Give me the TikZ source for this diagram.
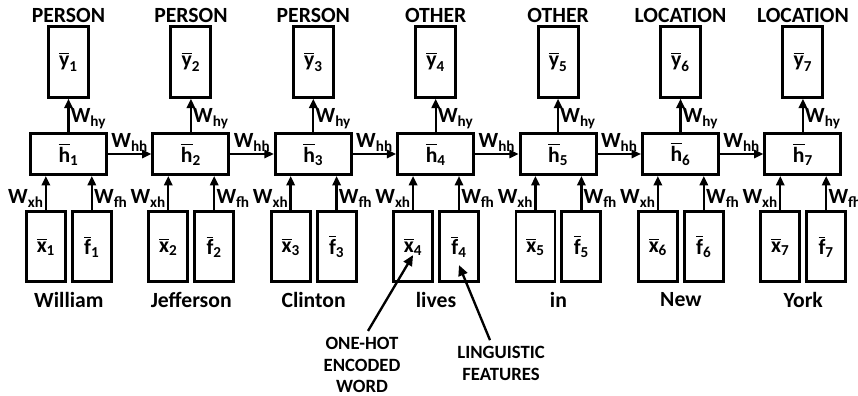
\documentclass[tikz,border=0pt]{standalone}
\usepackage{amsmath}
\usepackage{fontspec}
\setmainfont{Carlito}
\usetikzlibrary{arrows.meta, positioning}

\begin{document}
\begin{tikzpicture}[
  x=0.03cm, y=-0.03cm,
  every node/.style={font=\fontsize{18.5}{21}\selectfont\bfseries},
  hbox/.style={draw, line width=2.5pt, minimum width=2.28cm, minimum height=1.23cm, inner sep=0pt},
  ybox/.style={draw, line width=2.5pt, minimum width=1.2cm, minimum height=2.13cm, inner sep=0pt},
  xbox/.style={draw, line width=2.5pt, minimum width=1.17cm, minimum height=2.1cm, inner sep=0pt},
  cls/.style={inner sep=1pt},
  tok/.style={inner sep=1pt},
  wlab/.style={inner sep=1pt},
  note/.style={font=\fontsize{16}{18.3}\selectfont\bfseries, align=center, inner sep=1pt},
  arr/.style={-{Triangle[length=8pt,width=7pt]}, line width=2pt},
  ptr/.style={-{Triangle[length=9pt,width=8pt]}, line width=2pt}
]
  \useasboundingbox (0,0) rectangle (858,396);

  % one time step per column
  \foreach \i/\c/\t in {1/PERSON/William, 2/PERSON/Jefferson, 3/PERSON/Clinton,
                        4/OTHER/lives, 5/OTHER/in, 6/LOCATION/New, 7/LOCATION/York}{
    \node[hbox] (h\i) at ({68.5+122.4*(\i-1)},154) {$\overline{\text{h}}_{\text{\i}}$};
    \node[ybox, above=1cm of h\i] (y\i) {$\overline{\text{y}}_{\text{\i}}$};
    \node[cls, above=0.02cm of y\i] (c\i) {\c};
    \node[xbox, anchor=north east] (x\i) at ([xshift=-0.05cm, yshift=-1.03cm]h\i.south) {$\overline{\text{x}}_{\text{\i}}$};
    \node[xbox, right=0.12cm of x\i] (f\i) {$\overline{\text{f}}_{\text{\i}}$};
    \node[tok, below=0.22cm of x\i.south east, xshift=0.06cm] (w\i) {\t};

    \draw[arr] (h\i) -- node[wlab, right, pos=0.4] {$\text{W}_{\text{hy}}$} (y\i);
    \draw[arr] (x\i.north) -- node[wlab, left, pos=0.35] {$\text{W}_{\text{xh}}$} (x\i.north |- h\i.south);
    \draw[arr] (f\i.north) -- node[wlab, right, pos=0.35] {$\text{W}_{\text{fh}}$} (f\i.north |- h\i.south);
  }

  % recurrent links
  \foreach \i [evaluate=\i as \j using int(\i+1)] in {1,...,6}
    \draw[arr] (h\i) -- node[wlab, above] {$\text{W}_{\text{hh}}$} (h\j);

  % callouts
  \node[note] (onehot) at (362,365) {ONE-HOT\\ENCODED\\WORD};
  \node[note] (ling) at (501,363.5) {LINGUISTIC\\FEATURES};
  \draw[ptr] ([xshift=0.18cm, yshift=0.15cm]onehot.north) -- ([yshift=-0.25cm]x4.center);
  \draw[ptr] ([xshift=-0.33cm, yshift=0.15cm]ling.north) -- ([yshift=-0.55cm]f4.center);
\end{tikzpicture}
\end{document}
